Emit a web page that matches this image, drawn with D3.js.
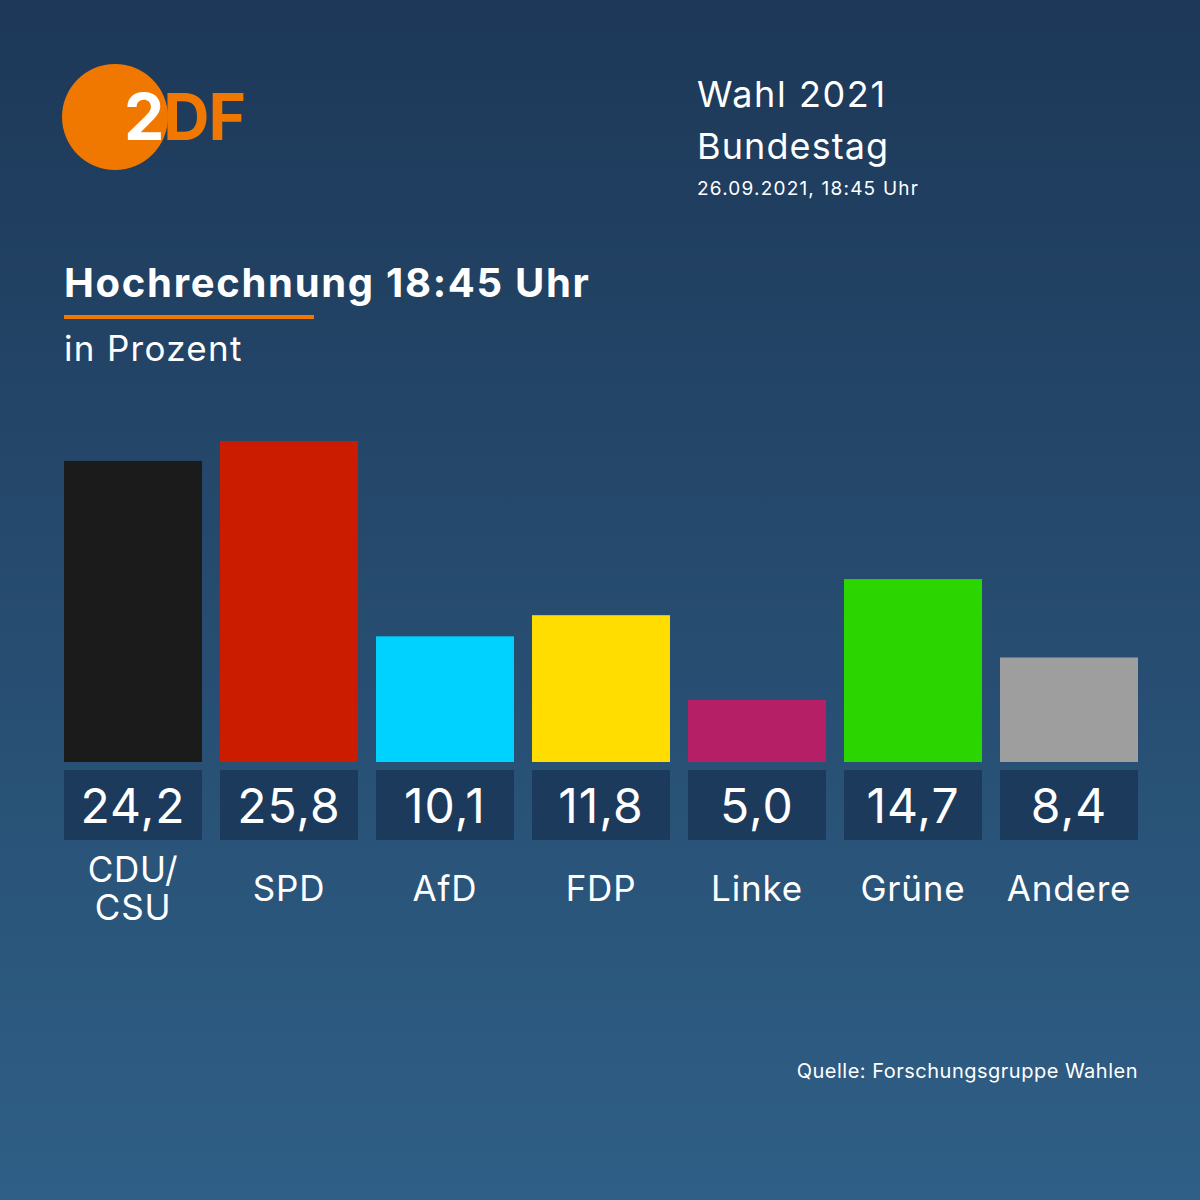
<!DOCTYPE html>
<html>
<head>
<meta charset="utf-8">
<script src="https://cdn.jsdelivr.net/npm/d3@7"></script>
<style>
  body { margin: 0; }
  svg { display: block; font-family: Inter, "Noto Sans", sans-serif; }
</style>
</head>
<body>
<svg id="chart" width="1200" height="1200"></svg>
<script>
// Chart data
const parties = ["CDU/CSU", "SPD", "AfD", "FDP", "Linke", "Grüne", "Andere"];
const labels = [["CDU/", "CSU"], ["SPD"], ["AfD"], ["FDP"], ["Linke"], ["Grüne"], ["Andere"]];
const values = [24.2, 25.8, 10.1, 11.8, 5.0, 14.7, 8.4];
const colors = ["#1b1b1b", "#cc1c00", "#00d2ff", "#ffdd00", "#b41f65", "#2ad500", "#9e9e9e"];

const svg = d3.select("#chart");

// Background gradient
const defs = svg.append("defs");
const grad = defs.append("linearGradient").attr("id", "bg")
  .attr("x1", 0).attr("y1", 0).attr("x2", 0).attr("y2", 1);
grad.append("stop").attr("offset", "0%").attr("stop-color", "#1d3858");
grad.append("stop").attr("offset", "100%").attr("stop-color", "#2f5f86");
svg.append("rect").attr("width", 1200).attr("height", 1200).attr("fill", "url(#bg)");

// Logo
svg.append("circle").attr("cx", 115).attr("cy", 117).attr("r", 53).attr("fill", "#f07800");
svg.append("text").attr("x", 124).attr("y", 140)
  .attr("font-size", 64).attr("font-weight", 700).attr("letter-spacing", -1)
  .attr("font-family", "Inter, sans-serif")
  .selectAll("tspan").data([["2", "#ffffff"], ["DF", "#f07800"]]).join("tspan")
  .attr("fill", d => d[1]).text(d => d[0]);

// Header text
svg.append("text").attr("x", 697).attr("y", 107).attr("fill", "#fff")
  .attr("font-size", 36).attr("letter-spacing", 1.6).text("Wahl 2021");
svg.append("text").attr("x", 697).attr("y", 159).attr("fill", "#fff")
  .attr("font-size", 36).attr("letter-spacing", 1.1).text("Bundestag");
svg.append("text").attr("x", 697).attr("y", 195).attr("fill", "#fff")
  .attr("font-size", 19).attr("letter-spacing", 1.2).text("26.09.2021, 18:45 Uhr");

svg.append("text").attr("x", 64).attr("y", 297).attr("fill", "#fff")
  .attr("font-size", 40).attr("font-weight", 700).attr("letter-spacing", 1.7).text("Hochrechnung 18:45 Uhr");
svg.append("rect").attr("x", 64).attr("y", 315).attr("width", 250).attr("height", 4).attr("fill", "#f07800");
svg.append("text").attr("x", 64).attr("y", 361).attr("fill", "#fff")
  .attr("font-size", 35).attr("letter-spacing", 1.3).text("in Prozent");

// Scales
const x = d3.scaleBand().domain(parties).range([64, 1138]).paddingInner(18 / 156).paddingOuter(0);
const y = d3.scaleLinear().domain([0, 25.8]).range([762, 441]);

svg.selectAll(".bar").data(parties).join("rect")
  .attr("x", d => x(d)).attr("width", x.bandwidth())
  .attr("y", (d, i) => y(values[i])).attr("height", (d, i) => y(0) - y(values[i]))
  .attr("fill", (d, i) => colors[i]);

svg.selectAll(".vbox").data(parties).join("rect")
  .attr("x", d => x(d)).attr("width", x.bandwidth())
  .attr("y", 770).attr("height", 70).attr("fill", "#1c3a5c");

svg.selectAll(".vtext").data(parties).join("text")
  .attr("x", d => x(d) + x.bandwidth() / 2).attr("y", 823)
  .attr("text-anchor", "middle").attr("fill", "#fff").attr("font-size", 48).attr("letter-spacing", 1)
  .text((d, i) => d3.format(".1f")(values[i]).replace(".", ","));

parties.forEach((p, i) => {
  const t = svg.append("text").attr("x", x(p) + x.bandwidth() / 2)
    .attr("text-anchor", "middle").attr("fill", "#fff").attr("font-size", 35).attr("letter-spacing", 0.8);
  const lines = labels[i];
  const startY = lines.length === 1 ? 901 : 882;
  lines.forEach((l, j) => t.append("tspan").attr("x", x(p) + x.bandwidth() / 2)
    .attr("y", startY + j * 38).text(l));
});

svg.append("text").attr("x", 1138).attr("y", 1078).attr("text-anchor", "end")
  .attr("fill", "#fff").attr("font-size", 20).attr("letter-spacing", 0.5).text("Quelle: Forschungsgruppe Wahlen");
</script>
</body>
</html>
